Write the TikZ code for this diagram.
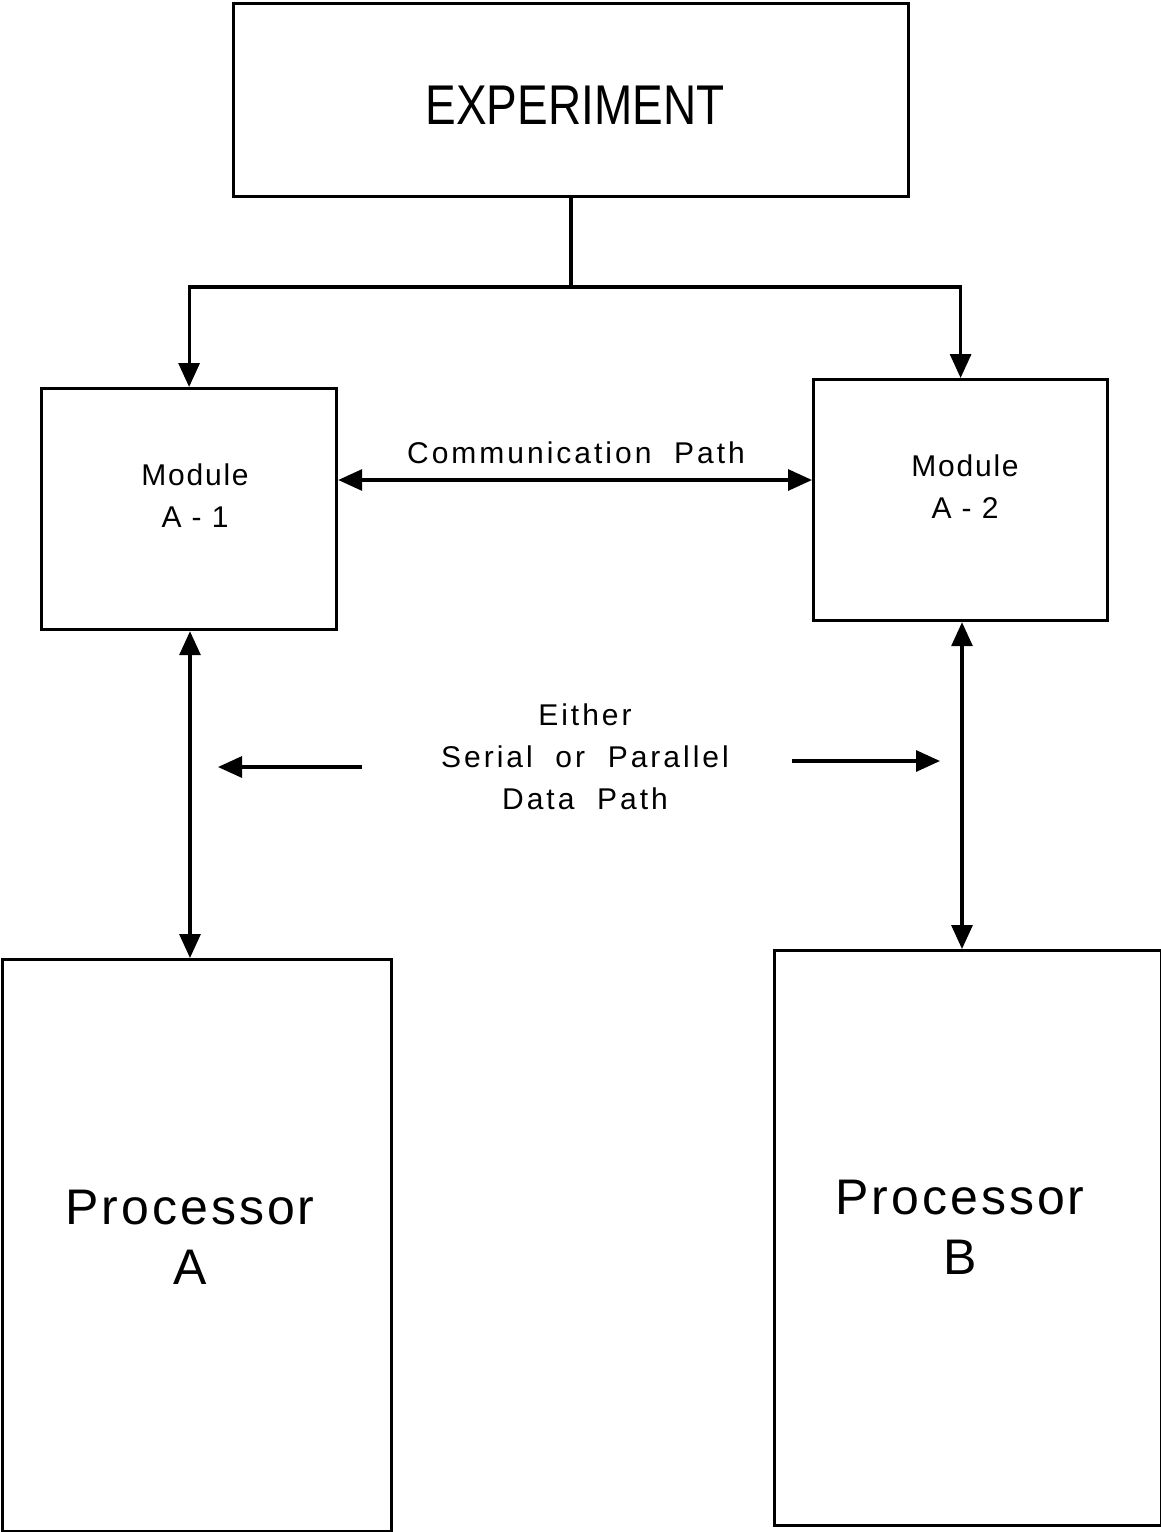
\documentclass[tikz,border=0pt]{standalone}
\usepackage{fontspec}
\usepackage{graphicx}
\setmainfont{Liberation Sans}
\newfontfamily\widefnt[LetterSpace=10]{Liberation Sans}
\newfontfamily\midfnt[LetterSpace=6]{Liberation Sans}
\usetikzlibrary{arrows.meta}
\begin{document}
\begin{tikzpicture}[x=1pt,y=-1pt,
  box/.style={draw,line width=3.2pt,anchor=north west,inner sep=0pt},
  conn/.style={line width=3.2pt},
  tip/.style={-{Triangle[length=24pt,width=21pt]}},
  dtip/.style={{Triangle[length=24pt,width=21pt]}-{Triangle[length=24pt,width=21pt]}},
  lbl/.style={font=\widefnt\fontsize{30}{36}\selectfont,inner sep=0pt,align=center},
]
\useasboundingbox (0,0) rectangle (1161,1532);
% boxes
\node[box,minimum width=675pt,minimum height=193pt] (exp) at (232,2) {};
\node[font=\fontsize{56}{60}\selectfont] at (575,105) {\scalebox{0.82}[1]{EXPERIMENT}};
\node[box,minimum width=295pt,minimum height=241pt] (m1) at (40,387) {};
\node[box,minimum width=294pt,minimum height=241pt] (m2) at (812,378) {};
\node[box,minimum width=389pt,minimum height=572pt] (pa) at (1,958) {};
\node[box,minimum width=387pt,minimum height=575pt] (pb) at (773,949) {};
% labels
\node[lbl,font=\midfnt\fontsize{30}{42}\selectfont] at (195,496) {Module\\A - 1};
\node[lbl,font=\midfnt\fontsize{30}{42}\selectfont] at (965,487) {Module\\A - 2};
\node[lbl,font=\midfnt\fontsize{50}{60}\selectfont] at (190,1237) {Processor\\A};
\node[lbl,font=\midfnt\fontsize{50}{60}\selectfont] at (960,1227) {Processor\\B};
\node[lbl] at (576,453) {Communication\ \ Path};
\node[lbl,font=\widefnt\fontsize{30}{42}\selectfont] at (585,757) {Either\\Serial\ \ or\ \ Parallel\\Data\ \ Path};
% connectors
\coordinate (j) at (571,287);
\coordinate (cp) at (575,480);
\draw[conn] (exp.south -| j) -- (j);
\draw[conn,tip] (j) -| (m1.north);
\draw[conn,tip] (j) -| (m2.north);
\draw[conn,dtip] (m1.east |- cp) -- (m2.west |- cp);
\draw[conn,dtip] (m1.south -| 190,0) -- (pa.north -| 190,0);
\draw[conn,dtip] (m2.south -| 962,0) -- (pb.north -| 962,0);
\coordinate (la) at (362,767);
\coordinate (lb) at (218,767);
\coordinate (ra) at (792,761);
\coordinate (rb) at (940,761);
\draw[conn,tip] (la) -- (lb);
\draw[conn,tip] (ra) -- (rb);
\end{tikzpicture}
\end{document}
